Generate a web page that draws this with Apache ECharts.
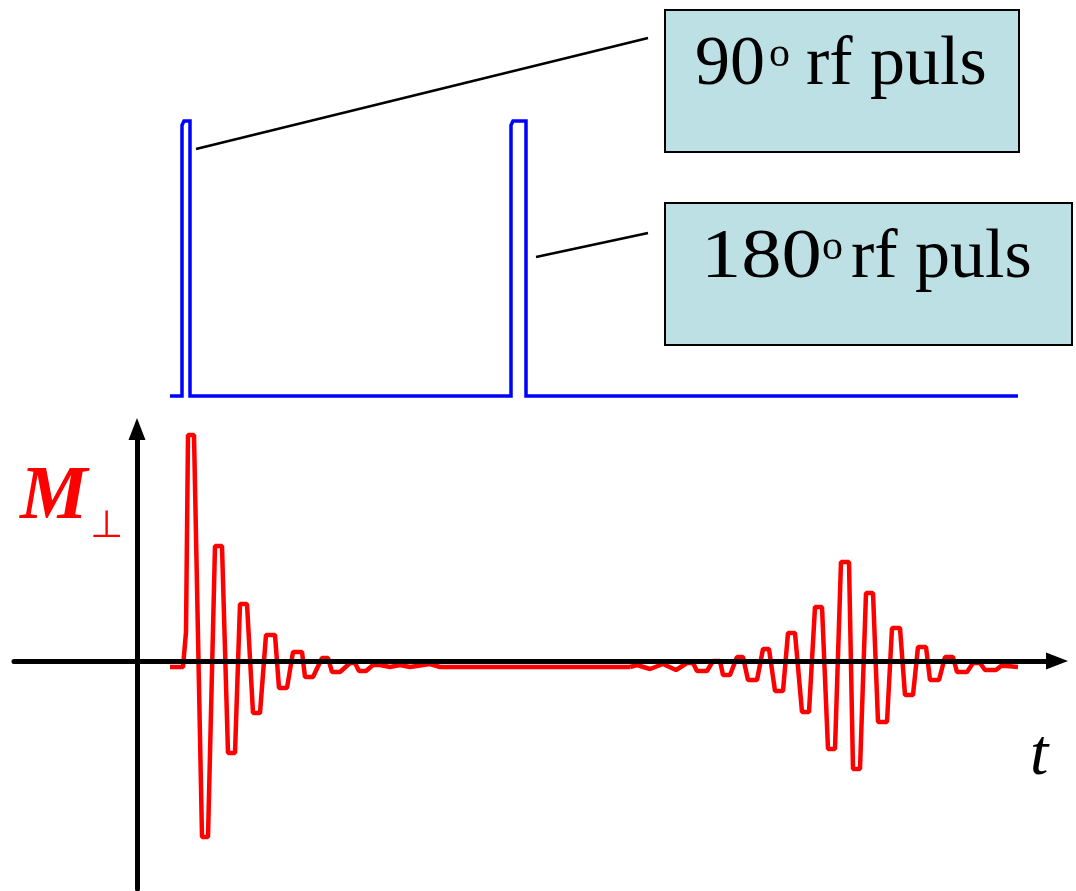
<!DOCTYPE html>
<html>
<head>
<meta charset="utf-8">
<style>html,body{margin:0;padding:0;background:#fff;}#chart{width:1076px;height:891px;}</style>
<script src="https://cdn.jsdelivr.net/npm/echarts@6/dist/echarts.min.js"></script>
</head>
<body>
<div id="chart"></div>
<script>
// time t (ms, arbitrary), pulse amplitude (0..1)
var pulseSeq = [
  [3.3, 0], [4.5, 0], [4.5, 0.985], [4.7, 1], [5.3, 1], [5.3, 0],
  [37.4, 0], [37.4, 0.985], [37.6, 1], [38.9, 1], [38.9, 0], [88.1, 0]
];
// transverse magnetisation: free induction decay after the 90° pulse
var fidSignal = [
  [3.3, -6], [4.6, -6], [4.9, 29], [5.1, 226], [5.7, 226], [6.5, -176], [7.1, -176],
  [7.8, 115], [8.5, 115], [9.1, -92], [9.8, -92], [10.3, 57], [11.0, 57],
  [11.6, -52], [12.3, -52], [12.9, 26], [13.8, 26], [14.2, -27], [15.0, -27],
  [15.6, 9], [16.5, 9], [16.8, -16], [17.6, -16], [18.5, 3], [19.1, 3],
  [19.5, -11], [20.3, -11], [21.3, -2], [21.8, -2], [22.2, -10], [22.9, -10],
  [23.6, -4], [24.3, -4], [25.3, -6], [26.3, -4], [27.3, -6], [29.3, -3], [30.3, -6],
  [49.3, -6]
];
// spin echo after the 180° pulse
var echoSignal = [
  [49.3, -6], [50.0, -4], [51.3, -8], [52.6, -3], [53.9, -9], [55.0, -2], [55.6, -2],
  [56.0, -10], [57.0, -10], [57.6, 0], [58.3, 0], [58.6, -14], [59.3, -14],
  [60.0, 4], [60.6, 4], [61.1, -19], [62.0, -19], [62.6, 12], [63.2, 12],
  [63.8, -30], [64.6, -30], [65.1, 28], [65.8, 28], [66.5, -51], [67.2, -51],
  [67.8, 54], [68.5, 54], [69.1, -88], [69.8, -88], [70.4, 99], [71.2, 99],
  [71.6, -108], [72.3, -108], [72.9, 68], [73.6, 68], [74.1, -61], [75.0, -61],
  [75.5, 33], [76.3, 33], [76.8, -34], [77.6, -34], [78.1, 14], [78.9, 14],
  [79.3, -19], [80.2, -19], [80.8, 4], [81.6, 4], [82.0, -11], [83.0, -11],
  [83.6, -2], [84.3, -2], [84.8, -9], [85.9, -9], [86.4, -5], [87.0, -5], [88.1, -6]
];
var tRange = [-12.3, 92.0];
var mRange = [-228, 232];

var serif = '"Liberation Serif", "Times New Roman", serif';
var chart = echarts.init(document.getElementById('chart'), null, {renderer: 'canvas'});
chart.setOption({
  animation: false,
  backgroundColor: '#fff',
  grid: [
    {left: 14, right: 19, top: 121, height: 275},
    {left: 14, right: 19, top: 429, height: 460}
  ],
  xAxis: [
    {gridIndex: 0, type: 'value', min: tRange[0], max: tRange[1], show: false},
    {gridIndex: 1, type: 'value', min: tRange[0], max: tRange[1], z: 5,
     axisLine: {show: true, onZero: true, symbol: ['none', 'triangle'], symbolSize: [17, 22],
                lineStyle: {color: '#000', width: 5}},
     axisTick: {show: false}, axisLabel: {show: false}, splitLine: {show: false}}
  ],
  yAxis: [
    {gridIndex: 0, type: 'value', min: 0, max: 1, show: false},
    {gridIndex: 1, type: 'value', min: mRange[0], max: mRange[1], z: 5,
     axisLine: {show: true, onZero: true, symbol: ['none', 'triangle'], symbolSize: [17, 22],
                lineStyle: {color: '#000', width: 5}},
     axisTick: {show: false}, axisLabel: {show: false}, splitLine: {show: false}}
  ],
  series: [
    {type: 'line', xAxisIndex: 0, yAxisIndex: 0, data: pulseSeq, showSymbol: false, symbol: 'none',
     clip: false, lineStyle: {color: '#0000ff', width: 3.5, join: 'miter'}},
    {type: 'line', xAxisIndex: 1, yAxisIndex: 1, data: fidSignal, showSymbol: false, symbol: 'none',
     clip: false, lineStyle: {color: '#ff0000', width: 4.5}},
    {type: 'line', xAxisIndex: 1, yAxisIndex: 1, data: echoSignal, showSymbol: false, symbol: 'none',
     clip: false, lineStyle: {color: '#ff0000', width: 4.5}}
  ],
  graphic: [
    {type: 'line', z: 10, shape: {x1: 196, y1: 149, x2: 648, y2: 38}, style: {stroke: '#000', lineWidth: 2.5}},
    {type: 'line', z: 10, shape: {x1: 536, y1: 257, x2: 648, y2: 233}, style: {stroke: '#000', lineWidth: 2.5}},
    {type: 'rect', z: 10, shape: {x: 665, y: 10, width: 354, height: 142}, style: {fill: '#bce0e3', stroke: '#000', lineWidth: 2}},
    {type: 'rect', z: 10, shape: {x: 665, y: 203, width: 407, height: 142}, style: {fill: '#bce0e3', stroke: '#000', lineWidth: 2}},
    {type: 'text', z: 11, style: {text: '90', x: 695, y: 66, font: '70px ' + serif, fill: '#000', verticalAlign: 'middle'}},
    {type: 'text', z: 11, style: {text: 'o', x: 769, y: 55, font: '42px ' + serif, fill: '#000', verticalAlign: 'middle'}},
    {type: 'text', z: 11, style: {text: 'rf puls', x: 806, y: 66, font: '70px ' + serif, fill: '#000', verticalAlign: 'middle'}},
    {type: 'text', z: 11, x: 701, y: 259, scaleX: 1.15, style: {text: '180', x: 0, y: 0, font: '70px ' + serif, fill: '#000', verticalAlign: 'middle'}},
    {type: 'text', z: 11, style: {text: 'o', x: 822, y: 248, font: '42px ' + serif, fill: '#000', verticalAlign: 'middle'}},
    {type: 'text', z: 11, style: {text: 'rf puls', x: 851, y: 259, font: '70px ' + serif, fill: '#000', verticalAlign: 'middle'}},
    {type: 'text', z: 11, style: {text: 'M', x: 20, y: 498, font: 'italic bold 76px ' + serif, fill: '#ff0000', verticalAlign: 'middle'}},
    {type: 'text', z: 11, style: {text: '\u22A5', x: 90, y: 527, font: '38px "DejaVu Sans", sans-serif', fill: '#ff0000', verticalAlign: 'middle'}},
    {type: 'text', z: 11, style: {text: 't', x: 1030, y: 757, font: 'italic 66px ' + serif, fill: '#000', verticalAlign: 'middle'}}
  ]
});
</script>
</body>
</html>
